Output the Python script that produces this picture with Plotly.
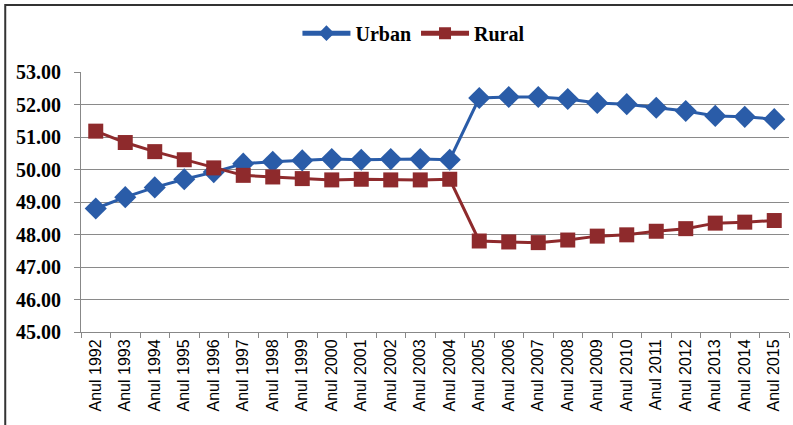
import plotly.graph_objects as go

years = [str(y) for y in range(1992, 2016)]
categories = ["Anul " + y for y in years]
urban = [48.80, 49.15, 49.45, 49.70, 49.92, 50.18, 50.24, 50.28, 50.32, 50.30, 50.32, 50.32,
         50.30, 52.20, 52.23, 52.23, 52.17, 52.05, 52.01, 51.90, 51.80, 51.65, 51.62, 51.55]
rural = [51.18, 50.83, 50.55, 50.30, 50.05, 49.82, 49.77, 49.72, 49.68, 49.70, 49.68, 49.68,
         49.70, 47.80, 47.77, 47.75, 47.83, 47.95, 47.99, 48.10, 48.18, 48.35, 48.38, 48.43]
y_ticks = [45, 46, 47, 48, 49, 50, 51, 52, 53]

fig = go.Figure()
fig.add_trace(go.Scatter(x=categories, y=urban, name="Urban", mode="lines+markers",
                         line=dict(color="#2A5CA8", width=3),
                         marker=dict(symbol="diamond", size=17, color="#2A5CA8")))
fig.add_trace(go.Scatter(x=categories, y=rural, name="Rural", mode="lines+markers",
                         line=dict(color="#8E2A2C", width=3),
                         marker=dict(symbol="square", size=15, color="#8E2A2C")))

fig.update_layout(
    width=793, height=425,
    margin=dict(l=81, r=4, t=72, b=93, autoexpand=False),
    paper_bgcolor="white", plot_bgcolor="white",
    showlegend=True,
    legend=dict(orientation="h", x=0.522, xanchor="center", xref="container",
                y=0.922, yanchor="middle", yref="container", itemwidth=48,
                itemsizing="constant",
                font=dict(family="Liberation Serif", size=20, color="black", weight="bold"),
                traceorder="normal"),
    xaxis=dict(type="category", range=[-0.5, len(categories) - 0.5], tickangle=-90,
               tickson="boundaries", ticks="outside",
               ticklen=5, tickcolor="#888", showline=True, linecolor="#888", linewidth=1,
               showgrid=False, automargin=False,
               tickfont=dict(family="Liberation Sans", size=16, color="black")),
    yaxis=dict(range=[45, 53], tickvals=y_ticks, ticktext=[f"{v:.2f}" for v in y_ticks],
               ticks="outside", ticklen=6, tickcolor="#888", showline=True, linecolor="#888",
               showgrid=True, gridcolor="#8a8a8a", gridwidth=1, zeroline=False,
               automargin=False, ticklabelstandoff=9,
               tickfont=dict(family="Liberation Serif", size=20, color="black", weight="bold")),
)
fig.add_shape(type="rect", xref="paper", yref="paper", x0=-0.107, x1=1.1, y0=-0.5, y1=1.258,
              line=dict(color="#333", width=2), fillcolor="rgba(0,0,0,0)", layer="above")
fig.write_html("out.html", config={"displayModeBar": False},
               post_script="document.body.style.margin='0px';")
